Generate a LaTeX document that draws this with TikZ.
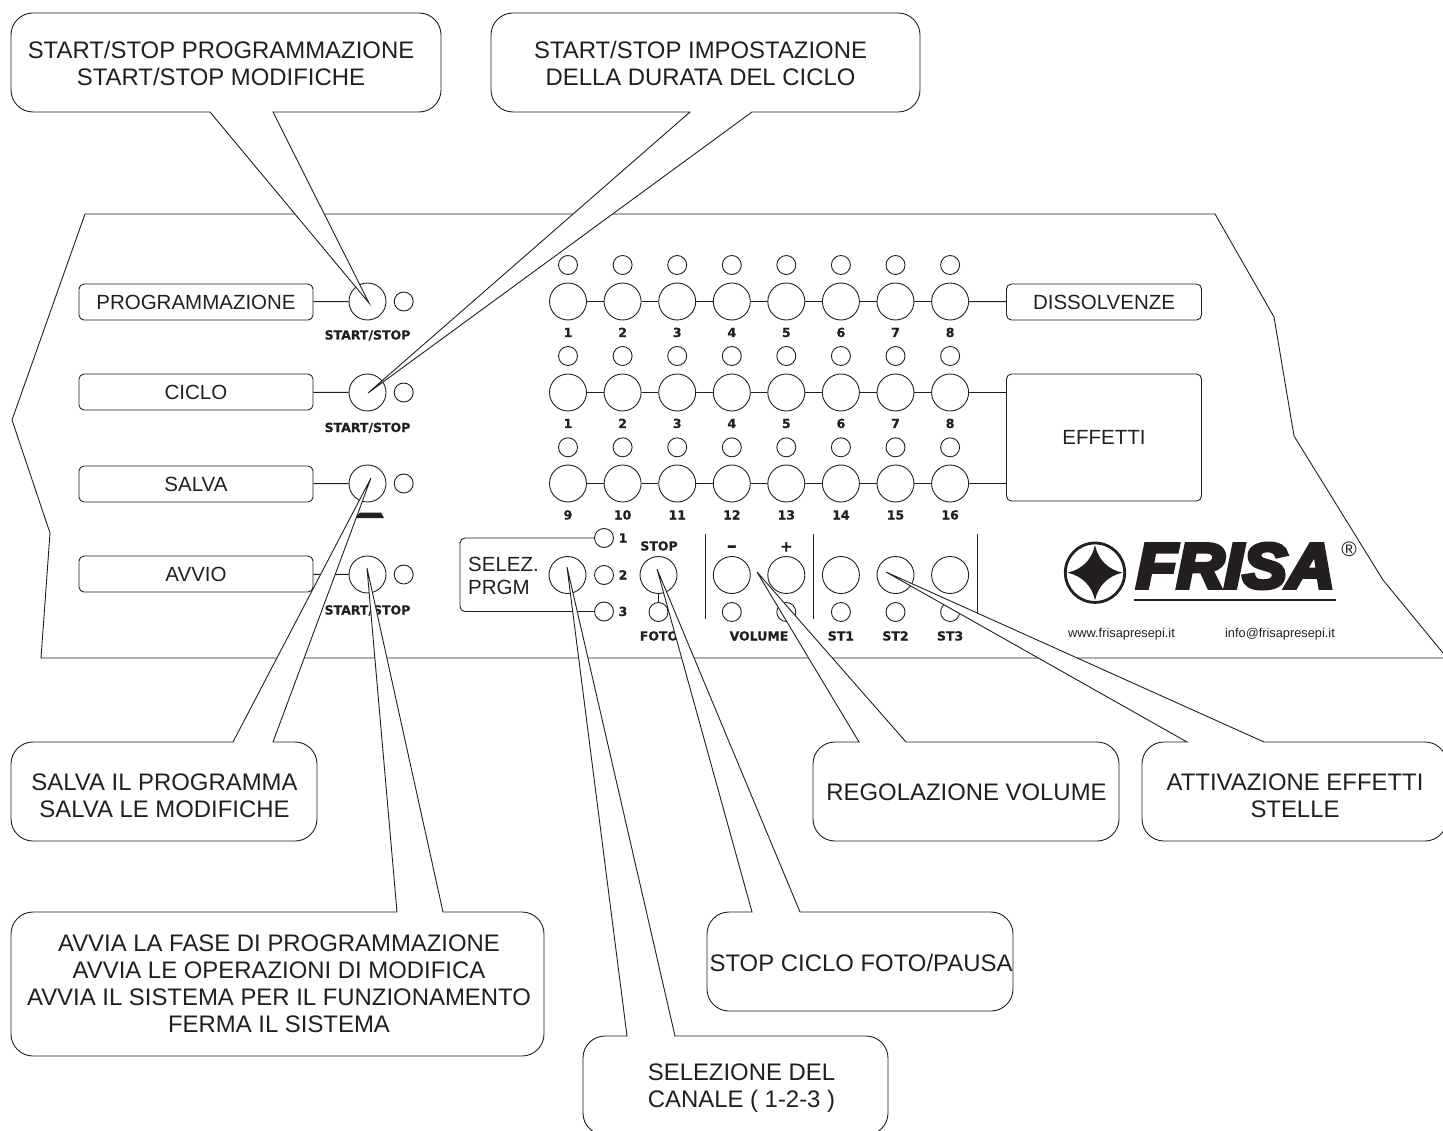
\documentclass[tikz,border=0pt]{standalone}
\usepackage{xcolor}
\usepackage{fontspec}
\setmainfont{Liberation Sans}
\newfontfamily\keyfont[BoldFeatures={FakeBold=.7}]{DejaVu Sans}
\newfontfamily\logofont[BoldItalicFeatures={FakeBold=7,FakeStretch=1.05}]{Liberation Sans}
\definecolor{panelink}{RGB}{35,31,32}
\tikzstyle{bigbutton}=[circle,draw=panelink,line width=.9pt,minimum size=37pt,inner sep=0pt]
\tikzstyle{ledlamp}=[circle,draw=panelink,line width=.9pt,minimum size=19pt,inner sep=0pt]
\tikzstyle{labelbox}=[draw=panelink,line width=.9pt,rounded corners=5pt,inner sep=0pt,text=panelink,font=\fontsize{20.5}{24}\selectfont]
\tikzstyle{wire}=[draw=panelink,line width=.9pt]
\tikzstyle{callout}=[draw=panelink,fill=white,line width=.9pt,line join=miter]
\tikzstyle{callouttext}=[text=panelink,align=center,inner sep=0pt,font=\fontsize{23.9}{26.9}\selectfont]
\tikzstyle{keytext}=[text=panelink,inner sep=0pt,text height=9pt,text depth=0pt,font=\keyfont\bfseries\fontsize{12.5}{14}\selectfont]
\tikzstyle{webtext}=[text=panelink,inner sep=0pt,font=\fontsize{12.8}{14}\selectfont]

\begin{document}
\begin{tikzpicture}[x=1pt,y=-1pt]
  \clip (0,0) rectangle (1443,1131);
  %% Panel outline
  \draw[wire] (1443,653) -- (1383,580) -- (1294,436) -- (1274,317) -- (1215,214) -- (85,214) -- (12,420) -- (50,533) -- (41,658) -- (1443,658);

  %% Left column
  \draw (196,302) node[labelbox,minimum width=234pt,minimum height=36pt] (boxprog) {PROGRAMMAZIONE};
  \draw (196,392) node[labelbox,minimum width=234pt,minimum height=36pt] (boxciclo) {CICLO};
  \draw (196,484) node[labelbox,minimum width=234pt,minimum height=36pt] (boxsalva) {SALVA};
  \draw (196,574) node[labelbox,minimum width=234pt,minimum height=36pt] (boxavvio) {AVVIO};
  \draw (367.5,301.5) node[bigbutton] (btnprog) {};
  \draw (367.5,392.5) node[bigbutton] (btnciclo) {};
  \draw (367.5,483.5) node[bigbutton] (btnsalva) {};
  \draw (367.5,574.5) node[bigbutton] (btnavvio) {};
  \draw (403.7,301.5) node[ledlamp] (ledprog) {};
  \draw (403.7,392.5) node[ledlamp] (ledciclo) {};
  \draw (403.7,483.5) node[ledlamp] (ledsalva) {};
  \draw (403.7,574.5) node[ledlamp] (ledavvio) {};
  \draw[wire] (boxprog) -- (btnprog);
  \draw[wire] (boxciclo) -- (btnciclo);
  \draw[wire] (boxsalva) -- (btnsalva);
  \draw[wire] (boxavvio) -- (btnavvio);
  \draw (367.5,335) node[keytext] (txtprog) {START/STOP};
  \draw (367.5,427.5) node[keytext] (txtciclo) {START/STOP};
  \draw (367.5,610) node[keytext] (txtavvio) {START/STOP};
  \fill[panelink] (355,518) -- (360,512.5) -- (381,512.5) -- (384,518) -- cycle;

  %% Dissolvenze
  \draw (568,301.5) node[bigbutton] (D1) {};
  \draw (622.6,301.5) node[bigbutton] (D2) {};
  \draw (677.2,301.5) node[bigbutton] (D3) {};
  \draw (731.8,301.5) node[bigbutton] (D4) {};
  \draw (786.3,301.5) node[bigbutton] (D5) {};
  \draw (840.9,301.5) node[bigbutton] (D6) {};
  \draw (895.5,301.5) node[bigbutton] (D7) {};
  \draw (950.1,301.5) node[bigbutton] (D8) {};
  \draw (568,265) node[ledlamp] (LD1) {};
  \draw (622.6,265) node[ledlamp] (LD2) {};
  \draw (677.2,265) node[ledlamp] (LD3) {};
  \draw (731.8,265) node[ledlamp] (LD4) {};
  \draw (786.3,265) node[ledlamp] (LD5) {};
  \draw (840.9,265) node[ledlamp] (LD6) {};
  \draw (895.5,265) node[ledlamp] (LD7) {};
  \draw (950.1,265) node[ledlamp] (LD8) {};
  \draw (568,332.5) node[keytext] {1};
  \draw (622.6,332.5) node[keytext] {2};
  \draw (677.2,332.5) node[keytext] {3};
  \draw (731.8,332.5) node[keytext] {4};
  \draw (786.3,332.5) node[keytext] {5};
  \draw (840.9,332.5) node[keytext] {6};
  \draw (895.5,332.5) node[keytext] {7};
  \draw (950.1,332.5) node[keytext] {8};
  \draw (1104,302) node[labelbox,minimum width=195pt,minimum height=36pt] (boxdiss) {DISSOLVENZE};
  \draw[wire] (D1) -- (D2);
  \draw[wire] (D2) -- (D3);
  \draw[wire] (D3) -- (D4);
  \draw[wire] (D4) -- (D5);
  \draw[wire] (D5) -- (D6);
  \draw[wire] (D6) -- (D7);
  \draw[wire] (D7) -- (D8);
  \draw[wire] (D8) -- (boxdiss);

  %% Effetti
  \draw (568,392.5) node[bigbutton] (E1) {};
  \draw (622.6,392.5) node[bigbutton] (E2) {};
  \draw (677.2,392.5) node[bigbutton] (E3) {};
  \draw (731.8,392.5) node[bigbutton] (E4) {};
  \draw (786.3,392.5) node[bigbutton] (E5) {};
  \draw (840.9,392.5) node[bigbutton] (E6) {};
  \draw (895.5,392.5) node[bigbutton] (E7) {};
  \draw (950.1,392.5) node[bigbutton] (E8) {};
  \draw (568,356) node[ledlamp] (LE1) {};
  \draw (622.6,356) node[ledlamp] (LE2) {};
  \draw (677.2,356) node[ledlamp] (LE3) {};
  \draw (731.8,356) node[ledlamp] (LE4) {};
  \draw (786.3,356) node[ledlamp] (LE5) {};
  \draw (840.9,356) node[ledlamp] (LE6) {};
  \draw (895.5,356) node[ledlamp] (LE7) {};
  \draw (950.1,356) node[ledlamp] (LE8) {};
  \draw (568,423.5) node[keytext] {1};
  \draw (622.6,423.5) node[keytext] {2};
  \draw (677.2,423.5) node[keytext] {3};
  \draw (731.8,423.5) node[keytext] {4};
  \draw (786.3,423.5) node[keytext] {5};
  \draw (840.9,423.5) node[keytext] {6};
  \draw (895.5,423.5) node[keytext] {7};
  \draw (950.1,423.5) node[keytext] {8};
  \draw (568,483.5) node[bigbutton] (F1) {};
  \draw (622.6,483.5) node[bigbutton] (F2) {};
  \draw (677.2,483.5) node[bigbutton] (F3) {};
  \draw (731.8,483.5) node[bigbutton] (F4) {};
  \draw (786.3,483.5) node[bigbutton] (F5) {};
  \draw (840.9,483.5) node[bigbutton] (F6) {};
  \draw (895.5,483.5) node[bigbutton] (F7) {};
  \draw (950.1,483.5) node[bigbutton] (F8) {};
  \draw (568,447.3) node[ledlamp] (LF1) {};
  \draw (622.6,447.3) node[ledlamp] (LF2) {};
  \draw (677.2,447.3) node[ledlamp] (LF3) {};
  \draw (731.8,447.3) node[ledlamp] (LF4) {};
  \draw (786.3,447.3) node[ledlamp] (LF5) {};
  \draw (840.9,447.3) node[ledlamp] (LF6) {};
  \draw (895.5,447.3) node[ledlamp] (LF7) {};
  \draw (950.1,447.3) node[ledlamp] (LF8) {};
  \draw (568,515) node[keytext] {9};
  \draw (622.6,515) node[keytext] {10};
  \draw (677.2,515) node[keytext] {11};
  \draw (731.8,515) node[keytext] {12};
  \draw (786.3,515) node[keytext] {13};
  \draw (840.9,515) node[keytext] {14};
  \draw (895.5,515) node[keytext] {15};
  \draw (950.1,515) node[keytext] {16};
  \draw (1104,437.5) node[labelbox,minimum width=195pt,minimum height=127pt] (boxeff) {EFFETTI};
  \draw[wire] (E1) -- (E2);
  \draw[wire] (E2) -- (E3);
  \draw[wire] (E3) -- (E4);
  \draw[wire] (E4) -- (E5);
  \draw[wire] (E5) -- (E6);
  \draw[wire] (E6) -- (E7);
  \draw[wire] (E7) -- (E8);
  \draw[wire] (E8) -- (E8-|boxeff.west);
  \draw[wire] (F1) -- (F2);
  \draw[wire] (F2) -- (F3);
  \draw[wire] (F3) -- (F4);
  \draw[wire] (F4) -- (F5);
  \draw[wire] (F5) -- (F6);
  \draw[wire] (F6) -- (F7);
  \draw[wire] (F7) -- (F8);
  \draw[wire] (F8) -- (F8-|boxeff.west);

  %% Lower row
  \draw (567.5,575) node[bigbutton] (btnsel) {};
  \draw (604,538) node[ledlamp] (ledA) {};
  \draw (604,575) node[ledlamp] (ledB) {};
  \draw (604,611.5) node[ledlamp] (ledC) {};
  \draw[wire,rounded corners=5pt] (ledA) -- (460,538) -- (460,611.5) -- (ledC);
  \draw (468,564) node[anchor=west,callouttext,font=\fontsize{20.5}{24}\selectfont] (txtsel) {SELEZ.};
  \draw (468,587) node[anchor=west,callouttext,font=\fontsize{20.5}{24}\selectfont] (txtprgm) {PRGM};
  \draw (623,538) node[keytext] {1};
  \draw (623,575) node[keytext] {2};
  \draw (623,611.5) node[keytext] {3};
  \draw (658.5,575) node[bigbutton] (btnstop) {};
  \draw (658.5,612) node[ledlamp] (ledfoto) {};
  \draw[wire] (btnstop) -- (ledfoto);
  \draw (659,546) node[keytext] (txtstop) {STOP};
  \draw (659,636) node[keytext] (txtfoto) {FOTO};
  \draw (731.8,575) node[bigbutton] (btnminus) {};
  \draw (786.3,575) node[bigbutton] (btnplus) {};
  \draw (840.9,575) node[bigbutton] (btnstA) {};
  \draw (895.5,575) node[bigbutton] (btnstB) {};
  \draw (950.1,575) node[bigbutton] (btnstC) {};
  \draw (731.8,612) node[ledlamp] (ledminus) {};
  \draw (786.3,612) node[ledlamp] (ledplus) {};
  \draw (840.9,612) node[ledlamp] (ledstA) {};
  \draw (895.5,612) node[ledlamp] (ledstB) {};
  \draw (950.1,612) node[ledlamp] (ledstC) {};
  \draw (731.8,549) node[keytext,font=\keyfont\bfseries\fontsize{20}{20}\selectfont,text height=6pt] (txtminus) {–};
  \draw (786.3,546) node[keytext,font=\keyfont\bfseries\fontsize{15}{15}\selectfont,text height=11pt] (txtplus) {+};
  \draw (759,636) node[keytext] (txtvol) {VOLUME};
  \draw (840.9,636) node[keytext] (txtstA) {ST1};
  \draw (895.5,636) node[keytext] (txtstB) {ST2};
  \draw (950.1,636) node[keytext] (txtstC) {ST3};
  \draw[wire] (705,534) -- (705,618.5);
  \draw[wire] (813.5,534) -- (813.5,618.5);
  \draw[wire] (977.5,534) -- (977.5,618.5);

  %% Logo
  \draw[panelink,line width=2.8pt] (1095,572.7) circle (29.7pt);
  \fill[panelink] (1067.5,572.7) .. controls (1082,569.5) and (1091.8,559.7) .. (1095,545.2) .. controls (1098.2,559.7) and (1108,569.5) .. (1122.5,572.7) .. controls (1108,575.9) and (1098.2,585.7) .. (1095,600.2) .. controls (1091.8,585.7) and (1082,575.9) .. (1067.5,572.7) -- cycle;
  \draw (1235.5,566) node[text=panelink,inner sep=0pt] (txtlogo) {\logofont\bfseries\itshape\fontsize{63}{63}\selectfont FRISA};
  \fill[panelink] (1134,598.7) rectangle (1336,601.3);
  \draw (1349,549) node[text=panelink,inner sep=0pt,font=\fontsize{21}{21}\selectfont] (txtreg) {®};
  \draw (1121.5,634) node[webtext] (txtweb) {www.frisapresepi.it};
  \draw (1280,634) node[webtext] (txtmail) {info@frisapresepi.it};

  %% Callouts
  \coordinate (tipprog) at (369,303);
  \coordinate (tipciclo) at (368,393);
  \coordinate (tipsalva) at (371,478);
  \coordinate (tipavvio) at (367,568);
  \coordinate (tipstop) at (657,569);
  \coordinate (tipsel) at (567,567);
  \coordinate (tipvol) at (757,572);
  \coordinate (tipstar) at (886,572);
  \draw[callout] (tipprog) -- (210,112) [rounded corners=22pt] -- (11,112) -- (11,13) -- (441,13) -- (441,112) [sharp corners] -- (273,112) -- cycle;
  \draw[callout] (tipciclo) -- (690,112) [rounded corners=22pt] -- (491,112) -- (491,13) -- (920,13) -- (920,112) [sharp corners] -- (752,112) -- cycle;
  \draw[callout] (tipsalva) -- (273,742) [rounded corners=22pt] -- (317,742) -- (317,841) -- (11,841) -- (11,742) [sharp corners] -- (233,742) -- cycle;
  \draw[callout] (tipavvio) -- (443,912) [rounded corners=22pt] -- (544,912) -- (544,1056) -- (11,1056) -- (11,912) [sharp corners] -- (397,912) -- cycle;
  \draw[callout] (tipstop) -- (800,912) [rounded corners=22pt] -- (1013,912) -- (1013,1011) -- (707,1011) -- (707,912) [sharp corners] -- (752,912) -- cycle;
  \draw[callout] (tipsel) -- (675,1036) [rounded corners=22pt] -- (888,1036) -- (888,1135) -- (583,1135) -- (583,1036) [sharp corners] -- (627,1036) -- cycle;
  \draw[callout] (tipvol) -- (906,742) [rounded corners=22pt] -- (1119,742) -- (1119,841) -- (813,841) -- (813,742) [sharp corners] -- (859,742) -- cycle;
  \draw[callout] (tipstar) -- (1264,742) [rounded corners=22pt] -- (1447,742) -- (1447,841) -- (1142,841) -- (1142,742) [sharp corners] -- (1187,742) -- cycle;
  \draw (221,63.5) node[callouttext] (txtcallprog) {START/STOP PROGRAMMAZIONE\\START/STOP MODIFICHE};
  \draw (700.5,63.5) node[callouttext] (txtcallciclo) {START/STOP IMPOSTAZIONE\\DELLA DURATA DEL CICLO};
  \draw (164.5,795.5) node[callouttext] (txtcallsalva) {SALVA IL PROGRAMMA\\SALVA LE MODIFICHE};
  \draw (279,983.5) node[callouttext] (txtcallavvio) {AVVIA LA FASE DI PROGRAMMAZIONE\\AVVIA LE OPERAZIONI DI MODIFICA\\AVVIA IL SISTEMA PER IL FUNZIONAMENTO\\FERMA IL SISTEMA};
  \draw (861,963) node[callouttext] (txtcallstop) {STOP CICLO FOTO/PAUSA};
  \draw (741.5,1088) node[callouttext] (txtcallsel) {SELEZIONE DEL\\CANALE ( 1-2-3 )};
  \draw (966.5,792) node[callouttext] (txtcallvol) {REGOLAZIONE VOLUME};
  \draw (1295,795.5) node[callouttext] (txtcallstar) {ATTIVAZIONE EFFETTI\\STELLE};
\end{tikzpicture}
\end{document}
